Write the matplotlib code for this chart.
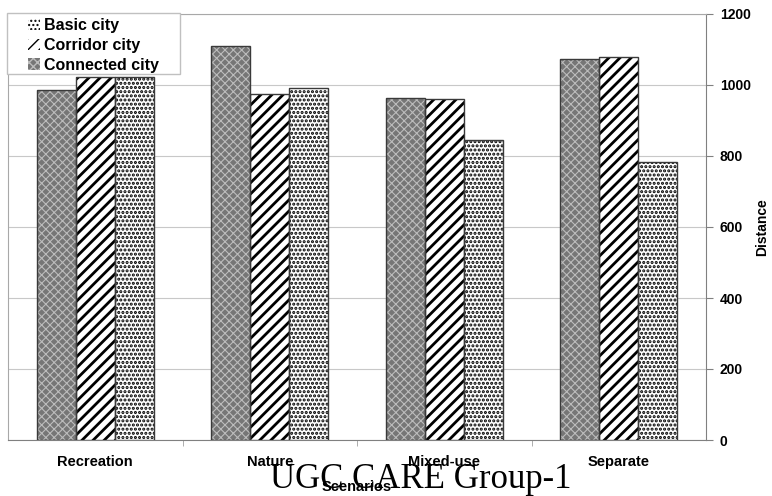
import matplotlib
matplotlib.use("Agg")
import matplotlib.pyplot as plt
import numpy as np
from matplotlib.patches import Rectangle

scenarios = ["Recreation", "Nature", "Mixed-use", "Separate"]
connected_city = [986, 1111, 964, 1073]
corridor_city = [1023, 974, 961, 1079]
basic_city = [1023, 991, 845, 784]
y_ticks = [0, 200, 400, 600, 800, 1000, 1200]

plt.rcParams["font.family"] = ["Liberation Sans", "DejaVu Sans"]
plt.rcParams["font.weight"] = "bold"

fig = plt.figure(figsize=(7.72, 4.96), dpi=100)
ax = fig.add_axes([8 / 772, 1 - 440 / 496, 698 / 772, 426 / 496])

x = np.arange(len(scenarios))
w = 0.223


def hatched_bars(xs, vals, face, hatch_col, hatch, lw, label):
    bars = ax.bar(xs, vals, w, color=face, edgecolor=hatch_col, hatch=hatch,
                  linewidth=0, label=label, zorder=3)
    for p in bars:
        if hasattr(p, "set_hatch_linewidth"):
            p.set_hatch_linewidth(lw)
    # dark outline drawn on top of the pattern
    ax.bar(xs, vals, w, fill=False, edgecolor="#3a3a3a", linewidth=1.0, zorder=4)
    return bars


plt.rcParams["hatch.linewidth"] = 1.0
b1 = hatched_bars(x - w, connected_city, "#767676", "#bcbcbc", "xxxx", 0.8, "Connected city")
b2 = hatched_bars(x, corridor_city, "white", "black", "///", 2.0, "Corridor city")
b3 = hatched_bars(x + w, basic_city, "white", "black", "....", 1.5, "Basic city")

ax.set_xlim(-0.5, 3.5)
ax.set_ylim(0, 1200)
ax.yaxis.tick_right()
ax.set_yticks(y_ticks)
ax.set_yticklabels([str(v) for v in y_ticks], fontsize=10, fontweight="bold")
ax.tick_params(axis="y", length=5, color="#808080", pad=5)
ax.grid(axis="y", color="#c8c8c8", linewidth=0.8, zorder=0)

ax.set_xticks(x)
ax.set_xticklabels(scenarios, fontsize=10.5, fontweight="bold")
ax.tick_params(axis="x", length=0, pad=11)
ax.set_xticks([0.5, 1.5, 2.5], minor=True)
ax.tick_params(axis="x", which="minor", length=4, color="#a0a0a0")

for side in ["top", "left"]:
    ax.spines[side].set_color("#a8a8a8")
for side in ["right", "bottom"]:
    ax.spines[side].set_color("#808080")

ylab = ax.set_ylabel("Distance", fontsize=10, fontweight="bold")
ax.yaxis.set_label_coords(1.081, 0.5)
ylab.set_verticalalignment("center")
ylab.set_horizontalalignment("center")
xlab = ax.set_xlabel("Scenarios", fontsize=10.5, fontweight="bold")
ax.xaxis.set_label_coords(0.5, -0.11)
xlab.set_verticalalignment("center")

# legend box
fig.patches.append(Rectangle((7 / 772, 1 - 74 / 496), 173 / 772, 61 / 496,
                             transform=fig.transFigure, facecolor="white",
                             edgecolor="#c0c0c0", linewidth=1, zorder=5))
leg = fig.legend([b3, b2, b1], ["Basic city", "Corridor city", "Connected city"],
                 loc="upper left", bbox_to_anchor=(17 / 772, 1 - 7 / 496),
                 frameon=False, fontsize=11.5, handlelength=0.75, handleheight=0.75,
                 handletextpad=0.25, labelspacing=0.3, borderpad=0.2)
leg.set_zorder(6)
for t in leg.get_texts():
    t.set_fontweight("bold")

fig.text(421 / 772, 1 - 488 / 496, "UGC CARE Group-1", fontsize=25,
         family=["Liberation Serif", "DejaVu Serif"], fontweight="normal",
         ha="center", va="baseline")

fig.savefig("out.png", dpi=100)
